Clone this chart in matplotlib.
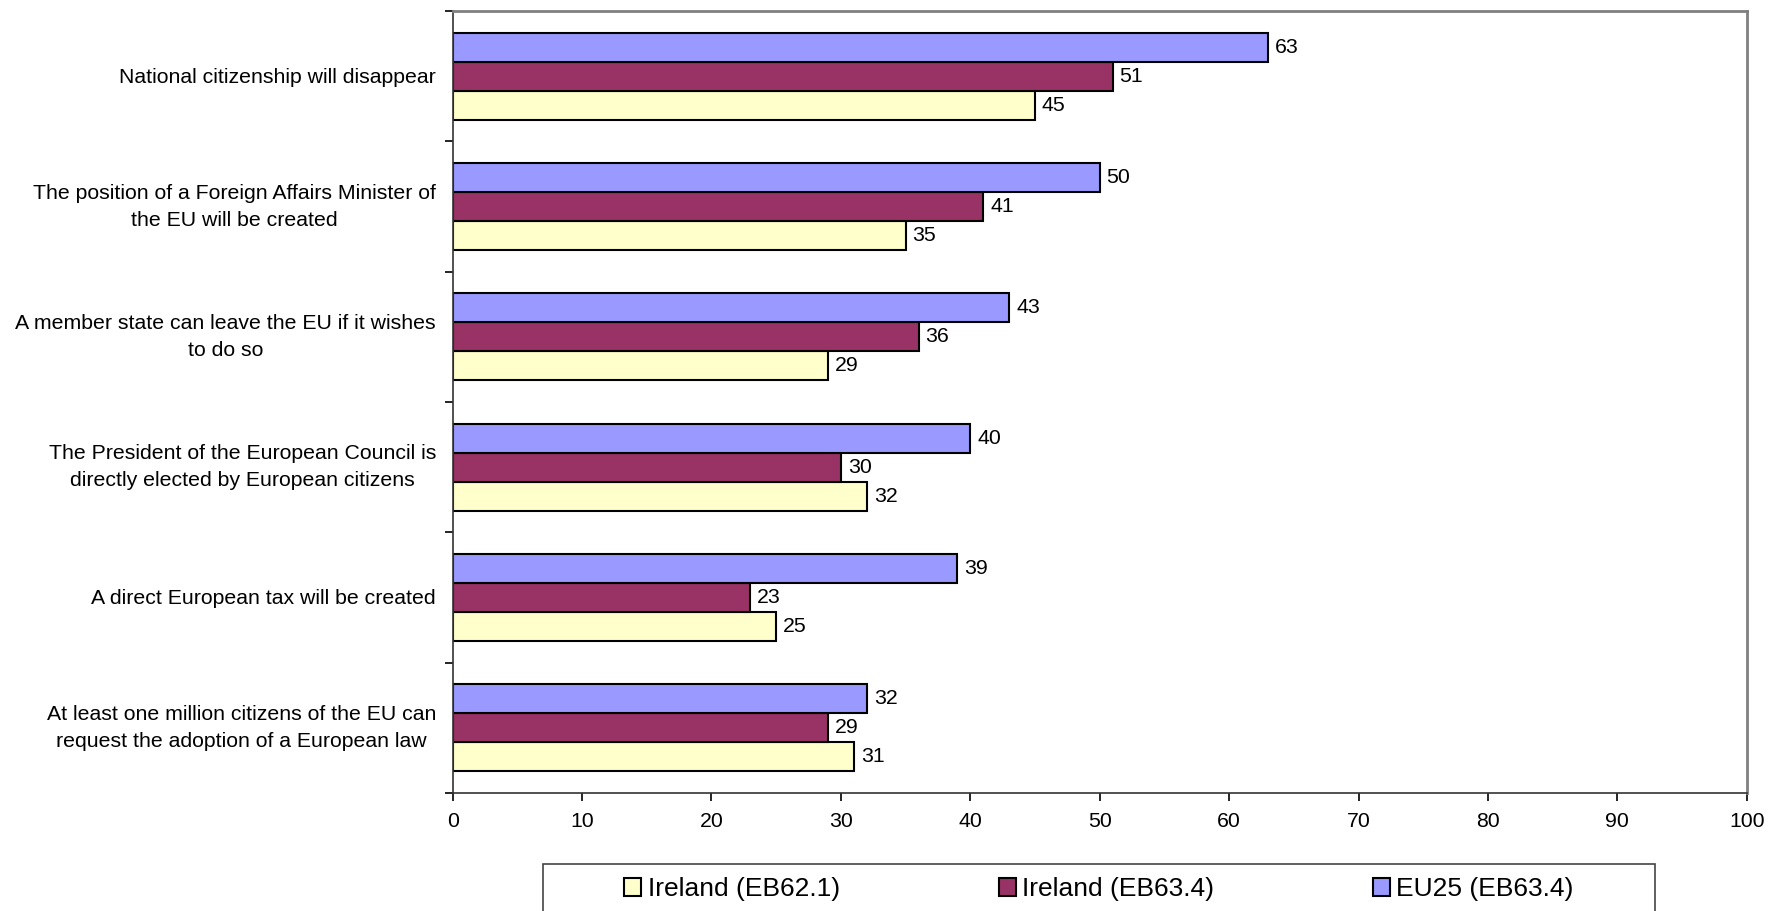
import matplotlib.pyplot as plt
import matplotlib.transforms as mtransforms
import numpy as np
from matplotlib.patches import Rectangle

plt.rcParams['font.family'] = ['Liberation Sans', 'DejaVu Sans']

categories = [
    "National citizenship will disappear",
    "The position of a Foreign Affairs Minister of\nthe EU will be created",
    "A member state can leave the EU if it wishes\nto do so",
    "The President of the European Council is\ndirectly elected by European citizens",
    "A direct European tax will be created",
    "At least one million citizens of the EU can\nrequest the adoption of a European law",
]
ireland_621 = [45, 35, 29, 32, 25, 31]
ireland_634 = [51, 41, 36, 30, 23, 29]
eu25_634 = [63, 50, 43, 40, 39, 32]
series_names = ["Ireland (EB62.1)", "Ireland (EB63.4)", "EU25 (EB63.4)"]
colors = ["#FFFFCC", "#993366", "#9999FF"]

fig = plt.figure(figsize=(17.69, 9.11), dpi=100)
ax = fig.add_axes([0.2559, 0.1295, 0.9874 - 0.2559, 0.9879 - 0.1295])

y = np.arange(len(categories))
h = 0.222
offsets = [h, 0, -h]
series = [ireland_621, ireland_634, eu25_634]
handles = []
for vals, off, col, name in zip(series, offsets, colors, series_names):
    bars = ax.barh(y + off, vals, height=h, color=col, edgecolor='black',
                   linewidth=1.5, label=name)
    handles.append(bars)
    for b, v in zip(bars, vals):
        ax.annotate(str(v), (v, b.get_y() + b.get_height() / 2),
                    xytext=(5, 0), textcoords='offset points',
                    va='center', ha='left', fontsize=15.3)

ax.set_ylim(len(categories) - 0.5, -0.5)
ax.set_xlim(0, 100)
ax.set_xticks(np.arange(0, 101, 10))
ax.set_yticks(y)
ax.set_yticklabels(categories, multialignment='center', fontsize=15.3, linespacing=1.55)
ax.set_yticks(np.arange(-0.5, len(categories)), minor=True)
ax.tick_params(axis='y', which='major', length=0, pad=12)
ax.tick_params(axis='y', which='minor', length=6, direction='out', width=1.2)
ax.tick_params(axis='x', length=6, direction='out', width=1.2, labelsize=15.3, pad=8)

# nudge labels up a little (two-line ones sit low otherwise)
for lbl in ax.get_yticklabels():
    dy = 6 if '\n' in lbl.get_text() else 1
    lbl.set_transform(lbl.get_transform() +
                      mtransforms.ScaledTranslation(0, dy / 100, fig.dpi_scale_trans))

for s in ['top', 'right']:
    ax.spines[s].set_color('#808080')
    ax.spines[s].set_linewidth(2)
for s in ['left', 'bottom']:
    ax.spines[s].set_color('#333333')
    ax.spines[s].set_linewidth(1.2)

# legend frame drawn by hand, entries centred inside
fig.patches.append(Rectangle((543 / 1769, -0.01), (1655 - 543) / 1769, (911 - 864) / 911 + 0.01,
                             transform=fig.transFigure, fill=False,
                             edgecolor='#444444', linewidth=1.2))
fig.legend(handles=handles, loc='center', bbox_to_anchor=(1099 / 1769, 1 - 889 / 911),
           ncol=3, frameon=False, fontsize=19, handlelength=0.65, handleheight=0.65,
           handletextpad=0.25, columnspacing=6.0, borderpad=0)

fig.savefig('out.png', dpi=100)
